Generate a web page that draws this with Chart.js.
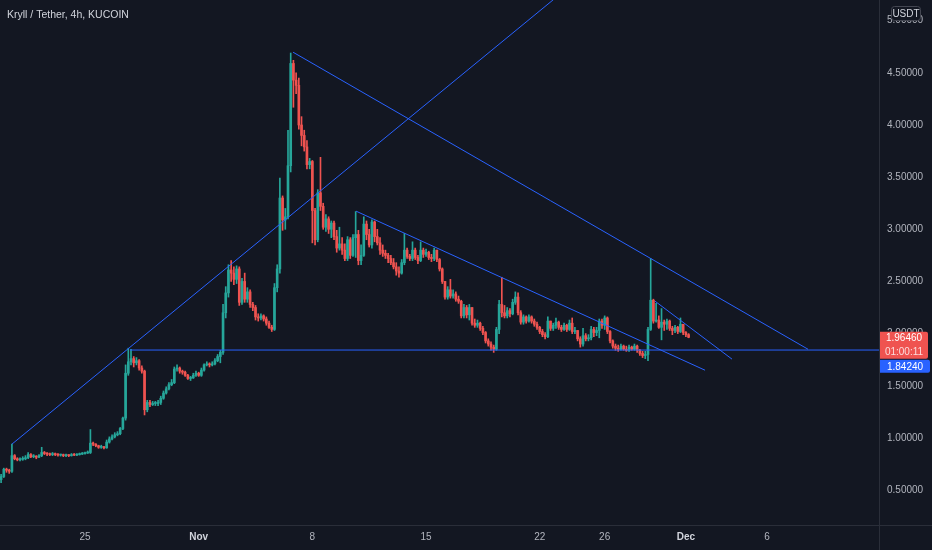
<!DOCTYPE html>
<html>
<head>
<meta charset="utf-8">
<title>Kryll / Tether, 4h, KUCOIN</title>
<script src="https://cdn.jsdelivr.net/npm/chart.js@4.4.1/dist/chart.umd.min.js"></script>
<style>
  html, body { margin: 0; padding: 0; background: #131722; }
  #wrap { width: 932px; height: 550px; position: relative; }
</style>
</head>
<body>
<div id="wrap"><canvas id="kryllChart"></canvas></div>
<script>
// KRL/USDT 4h candles. Time is in days from 25 Oct 00:00,
// first candle opens 19 Oct 20:00. Open of a candle = close of the one before.
var firstCandleDay = -31 / 6
var firstOpen = 0.60

var closes = [
  0.63, 0.70, 0.69, 0.68, 0.83, 0.80, 0.79, 0.795, 0.80, 0.81,
  0.84, 0.82, 0.825, 0.815, 0.83, 0.86, 0.85, 0.845, 0.84, 0.845,
  0.84, 0.835, 0.835, 0.83, 0.835, 0.83, 0.84, 0.835, 0.84, 0.845,
  0.85, 0.855, 0.86, 0.95, 0.94, 0.925, 0.91, 0.915, 0.905, 0.96,
  0.99, 1.01, 1.03, 1.04, 1.09, 1.19, 1.62, 1.73, 1.76, 1.72,
  1.74, 1.67, 1.64, 1.27, 1.34, 1.32, 1.33, 1.33, 1.34, 1.38,
  1.43, 1.47, 1.51, 1.53, 1.66, 1.67, 1.64, 1.63, 1.60, 1.57,
  1.575, 1.60, 1.62, 1.60, 1.65, 1.70, 1.71, 1.70, 1.71, 1.74,
  1.78, 1.82, 2.20, 2.39, 2.61, 2.58, 2.52, 2.62, 2.30, 2.50,
  2.33, 2.40, 2.28, 2.25, 2.16, 2.15, 2.17, 2.14, 2.10, 2.06,
  2.04, 2.44, 2.62, 3.30, 3.09, 3.12, 3.61, 4.59, 4.43, 4.38,
  4.00, 3.90, 3.79, 3.62, 3.65, 3.18, 2.90, 3.35, 3.22, 3.02,
  3.10, 3.00, 3.06, 2.93, 2.82, 2.86, 2.80, 2.72, 2.90, 2.75,
  2.92, 2.95, 2.70, 2.75, 3.05, 2.95, 2.85, 3.07, 2.93, 2.87,
  2.80, 2.77, 2.75, 2.72, 2.68, 2.64, 2.60, 2.58, 2.68, 2.80,
  2.74, 2.72, 2.80, 2.73, 2.70, 2.80, 2.76, 2.78, 2.73, 2.72,
  2.80, 2.71, 2.62, 2.50, 2.35, 2.42, 2.36, 2.38, 2.33, 2.31,
  2.17, 2.25, 2.18, 2.25, 2.10, 2.08, 2.10, 2.05, 2.01, 1.93,
  1.90, 1.87, 1.85, 2.04, 2.28, 2.20, 2.17, 2.22, 2.19, 2.30,
  2.35, 2.20, 2.11, 2.16, 2.12, 2.16, 2.12, 2.09, 2.06, 2.02,
  1.99, 1.97, 2.12, 2.05, 2.08, 2.11, 2.06, 2.04, 2.08, 2.04,
  2.10, 2.02, 2.03, 1.95, 1.90, 1.98, 1.95, 1.96, 2.04, 2.01,
  2.03, 2.12, 2.08, 2.15, 2.02, 1.93, 1.88, 1.86, 1.85, 1.88,
  1.85, 1.84, 1.87, 1.85, 1.88, 1.84, 1.81, 1.79, 1.80, 2.04,
  2.32, 2.12, 2.13, 2.06, 2.11, 2.09, 2.12, 2.05, 2.03, 2.06,
  2.02, 2.09, 2.01, 1.99, 1.9646
]

var highs = [
  0.65, 0.71, 0.71, 0.70, 0.94, 0.84, 0.81, 0.81, 0.82, 0.83,
  0.86, 0.85, 0.84, 0.83, 0.84, 0.91, 0.87, 0.86, 0.855, 0.86,
  0.855, 0.85, 0.845, 0.845, 0.845, 0.84, 0.85, 0.85, 0.85, 0.855,
  0.86, 0.865, 0.875, 1.08, 0.96, 0.945, 0.93, 0.93, 0.92, 0.98,
  1.01, 1.03, 1.05, 1.06, 1.10, 1.20, 1.70, 1.86, 1.85, 1.78,
  1.77, 1.75, 1.69, 1.65, 1.36, 1.36, 1.35, 1.35, 1.36, 1.40,
  1.45, 1.49, 1.53, 1.56, 1.68, 1.70, 1.68, 1.65, 1.64, 1.61,
  1.59, 1.62, 1.64, 1.63, 1.67, 1.71, 1.73, 1.72, 1.73, 1.76,
  1.80, 1.84, 2.28, 2.45, 2.66, 2.70, 2.64, 2.65, 2.64, 2.53,
  2.58, 2.44, 2.42, 2.30, 2.27, 2.19, 2.19, 2.18, 2.16, 2.12,
  2.08, 2.48, 2.66, 3.49, 3.32, 3.20, 3.95, 4.69, 4.62, 4.50,
  4.45, 4.08, 3.95, 3.85, 3.68, 3.66, 3.20, 3.38, 3.69, 3.25,
  3.14, 3.12, 3.08, 3.08, 2.99, 3.02, 2.92, 2.86, 2.93, 2.92,
  2.95, 3.17, 2.99, 2.85, 3.12, 3.08, 3.00, 3.09, 3.08, 3.00,
  2.92, 2.85, 2.80, 2.77, 2.75, 2.72, 2.68, 2.64, 2.71, 2.96,
  2.82, 2.76, 2.88, 2.82, 2.75, 2.88, 2.82, 2.81, 2.79, 2.76,
  2.82, 2.80, 2.72, 2.63, 2.50, 2.45, 2.52, 2.42, 2.40, 2.36,
  2.32, 2.28, 2.27, 2.28, 2.25, 2.14, 2.13, 2.11, 2.07, 2.02,
  1.95, 1.92, 1.89, 2.06, 2.32, 2.54, 2.27, 2.25, 2.24, 2.33,
  2.40, 2.39, 2.22, 2.18, 2.17, 2.18, 2.17, 2.14, 2.11, 2.07,
  2.04, 2.01, 2.16, 2.12, 2.10, 2.15, 2.12, 2.08, 2.10, 2.09,
  2.13, 2.15, 2.06, 2.03, 1.97, 2.05, 2.00, 1.99, 2.07, 2.06,
  2.06, 2.14, 2.14, 2.17, 2.16, 2.03, 1.94, 1.90, 1.89, 1.90,
  1.89, 1.88, 1.89, 1.88, 1.90, 1.89, 1.85, 1.83, 1.83, 2.06,
  2.72, 2.33, 2.29, 2.17, 2.24, 2.13, 2.14, 2.13, 2.07, 2.08,
  2.07, 2.15, 2.08, 2.02, 2.00
]

var lows = [
  0.57, 0.62, 0.67, 0.66, 0.67, 0.79, 0.78, 0.78, 0.785, 0.79,
  0.80, 0.81, 0.81, 0.80, 0.81, 0.82, 0.84, 0.83, 0.83, 0.83,
  0.83, 0.825, 0.825, 0.82, 0.82, 0.82, 0.825, 0.83, 0.83, 0.835,
  0.84, 0.845, 0.85, 0.85, 0.925, 0.915, 0.90, 0.90, 0.895, 0.90,
  0.95, 0.98, 1.00, 1.02, 1.03, 1.08, 1.17, 1.60, 1.70, 1.68,
  1.70, 1.65, 1.62, 1.22, 1.25, 1.30, 1.31, 1.31, 1.31, 1.32,
  1.37, 1.42, 1.46, 1.50, 1.52, 1.64, 1.62, 1.61, 1.59, 1.56,
  1.55, 1.57, 1.59, 1.59, 1.59, 1.64, 1.69, 1.68, 1.69, 1.70,
  1.73, 1.72, 1.80, 2.15, 2.35, 2.50, 2.47, 2.48, 2.27, 2.28,
  2.30, 2.30, 2.25, 2.22, 2.13, 2.12, 2.13, 2.12, 2.08, 2.05,
  2.02, 2.03, 2.40, 2.58, 2.99, 3.00, 3.10, 3.55, 4.17, 4.30,
  3.96, 3.80, 3.75, 3.58, 3.58, 2.87, 2.85, 2.88, 3.18, 3.00,
  2.98, 2.96, 2.92, 2.90, 2.78, 2.80, 2.76, 2.70, 2.70, 2.72,
  2.74, 2.73, 2.66, 2.66, 2.74, 2.90, 2.83, 2.82, 2.88, 2.85,
  2.76, 2.74, 2.72, 2.68, 2.66, 2.62, 2.56, 2.54, 2.57, 2.66,
  2.72, 2.70, 2.70, 2.71, 2.67, 2.69, 2.73, 2.74, 2.71, 2.69,
  2.70, 2.69, 2.60, 2.48, 2.33, 2.33, 2.34, 2.34, 2.31, 2.29,
  2.15, 2.15, 2.15, 2.13, 2.08, 2.06, 2.06, 2.03, 1.99, 1.91,
  1.88, 1.84, 1.82, 1.84, 2.00, 2.16, 2.15, 2.15, 2.16, 2.18,
  2.28, 2.18, 2.09, 2.09, 2.10, 2.11, 2.10, 2.07, 2.04, 2.00,
  1.97, 1.95, 1.96, 2.03, 2.03, 2.05, 2.04, 2.02, 2.03, 2.02,
  2.03, 2.00, 2.00, 1.93, 1.87, 1.88, 1.93, 1.93, 1.94, 1.97,
  1.98, 1.96, 2.05, 2.04, 2.00, 1.91, 1.86, 1.84, 1.83, 1.84,
  1.84, 1.83, 1.83, 1.84, 1.84, 1.82, 1.79, 1.77, 1.76, 1.74,
  2.03, 2.10, 2.11, 2.05, 1.94, 2.03, 2.04, 2.03, 1.99, 2.01,
  2.00, 2.01, 1.99, 1.97, 1.96
]

var tickDays = [0, 7, 14, 21, 28, 32, 37, 42]
var tickLabels = ["25", "Nov", "8", "15", "22", "26", "Dec", "6"]

// hand drawn trend lines: [day, price] end points
var trendLines = [
  [[-4.5, 0.94], [30, 5.35]],
  [[12.81, 4.698], [44.52, 1.85]],
  [[2.77, 1.8424], [50, 1.8424]],
  [[16.69, 3.174], [38.18, 1.649]],
  [[35.1, 2.311], [39.84, 1.755]],
]

var lastPrice = 1.9646
var levelPrice = 1.8424
var countdown = "01:00:11"

var up = "#26a69a"
var down = "#ef5350"
var lineBlue = "#2962ff"
var textGrey = "#b2b5be"
var fontFamily = "'Liberation Sans', Arial, sans-serif"

var opens = closes.map(function (c, i) {
  return i === 0 ? firstOpen : closes[i - 1]
})
var days = closes.map(function (c, i) {
  return firstCandleDay + i / 6
})

function candleColor(ctx) {
  var i = ctx.dataIndex
  if (i === undefined) return up
  return closes[i] >= opens[i] ? up : down
}

function isMonthTick(c) {
  if (!c || !c.tick) return false
  var lab = tickLabels[tickDays.indexOf(c.tick.value)]
  return lab !== undefined && isNaN(Number(lab))
}

var lineSets = trendLines.map(function (seg) {
  return {
    type: "line",
    data: seg.map(function (p) { return { x: p[0], y: p[1] } }),
    borderColor: lineBlue,
    borderWidth: 1,
    pointRadius: 0,
    fill: false,
  }
})

var overlay = {
  id: "overlay",
  beforeDraw: function (chart) {
    var ctx = chart.ctx
    ctx.save()
    ctx.fillStyle = "#131722"
    ctx.fillRect(0, 0, chart.width, chart.height)
    ctx.restore()
  },
  afterDraw: function (chart) {
    var ctx = chart.ctx
    var area = chart.chartArea
    ctx.save()
    // panel borders
    ctx.strokeStyle = "#2a2e39"
    ctx.lineWidth = 1
    ctx.beginPath()
    ctx.moveTo(area.right + 0.5, 0)
    ctx.lineTo(area.right + 0.5, chart.height)
    ctx.moveTo(0, area.bottom + 0.5)
    ctx.lineTo(chart.width, area.bottom + 0.5)
    ctx.stroke()

    // title
    ctx.fillStyle = "#d1d4dc"
    ctx.font = "10.5px " + fontFamily
    ctx.textBaseline = "middle"
    ctx.textAlign = "left"
    ctx.fillText("Kryll / Tether, 4h, KUCOIN", 7, 15)

    // currency box
    ctx.fillStyle = "#131722"
    ctx.strokeStyle = "#434651"
    ctx.beginPath()
    ctx.roundRect(891.5, 6.5, 29, 14, 3)
    ctx.fill()
    ctx.stroke()
    ctx.fillStyle = "#d1d4dc"
    ctx.textAlign = "center"
    ctx.font = "10px " + fontFamily
    ctx.fillText("USDT", 906, 14)

    // last price and level labels
    var py = chart.scales.y.getPixelForValue(lastPrice)
    var x0 = area.right + 1
    ctx.fillStyle = down
    ctx.beginPath()
    ctx.roundRect(x0, py - 5.5, 48, 27, [0, 2, 2, 0])
    ctx.fill()
    ctx.fillStyle = "#ffffff"
    ctx.fillText(lastPrice.toFixed(5), x0 + 24, py + 1)
    ctx.fillStyle = "rgba(255,255,255,0.8)"
    ctx.fillText(countdown, x0 + 24, py + 14.5)
    var by = py + 22.5
    ctx.fillStyle = lineBlue
    ctx.beginPath()
    ctx.roundRect(x0, by, 50, 13, [0, 2, 2, 0])
    ctx.fill()
    ctx.fillStyle = "#ffffff"
    ctx.fillText(levelPrice.toFixed(5), x0 + 25, by + 7)
    ctx.restore()
  },
}

var ctx = document.getElementById("kryllChart").getContext("2d")
var kryllChart = new Chart(ctx, {
  type: "bar",
  data: {
    datasets: lineSets.concat([
      {
        label: "body",
        data: days.map(function (d, i) { return { x: d, y: [opens[i], closes[i]] } }),
        backgroundColor: candleColor,
        barThickness: 2,
        minBarLength: 1,
        grouped: false,
      },
      {
        label: "wick",
        data: days.map(function (d, i) { return { x: d, y: [lows[i], highs[i]] } }),
        backgroundColor: candleColor,
        barThickness: 1,
        grouped: false,
      },
    ]),
  },
  options: {
    responsive: true,
    maintainAspectRatio: false,
    devicePixelRatio: 1,
    animation: false,
    events: [],
    layout: { padding: 0 },
    plugins: {
      legend: { display: false },
      tooltip: { enabled: false },
    },
    scales: {
      x: {
        type: "linear",
        min: -85 / 16.24,
        max: (879 - 85) / 16.24,
        offset: false,
        grid: { display: false, drawTicks: false },
        border: { display: false },
        afterBuildTicks: function (scale) {
          scale.ticks = tickDays.map(function (d) { return { value: d } })
        },
        afterFit: function (scale) {
          scale.height = 25
          scale.paddingLeft = 0
          scale.paddingRight = 0
        },
        ticks: {
          autoSkip: false,
          maxRotation: 0,
          padding: 6,
          color: function (c) {
            return isMonthTick(c) ? "#d1d4dc" : textGrey
          },
          font: function (c) {
            return { family: fontFamily, size: 10, weight: isMonthTick(c) ? "bold" : "normal" }
          },
          callback: function (value) {
            var k = tickDays.indexOf(value)
            return k < 0 ? "" : tickLabels[k]
          },
        },
      },
      y: {
        position: "right",
        min: 17.2 / 104.3,
        max: 542.2 / 104.3,
        grid: { display: false, drawTicks: false },
        border: { display: false },
        afterFit: function (scale) {
          scale.width = 53
          scale.paddingTop = 0
          scale.paddingBottom = 0
        },
        ticks: {
          stepSize: 0.5,
          includeBounds: false,
          padding: 8,
          color: textGrey,
          font: { family: fontFamily, size: 10 },
          callback: function (value) {
            return value.toFixed(5)
          },
        },
      },
    },
  },
  plugins: [overlay],
})
</script>
</body>
</html>
